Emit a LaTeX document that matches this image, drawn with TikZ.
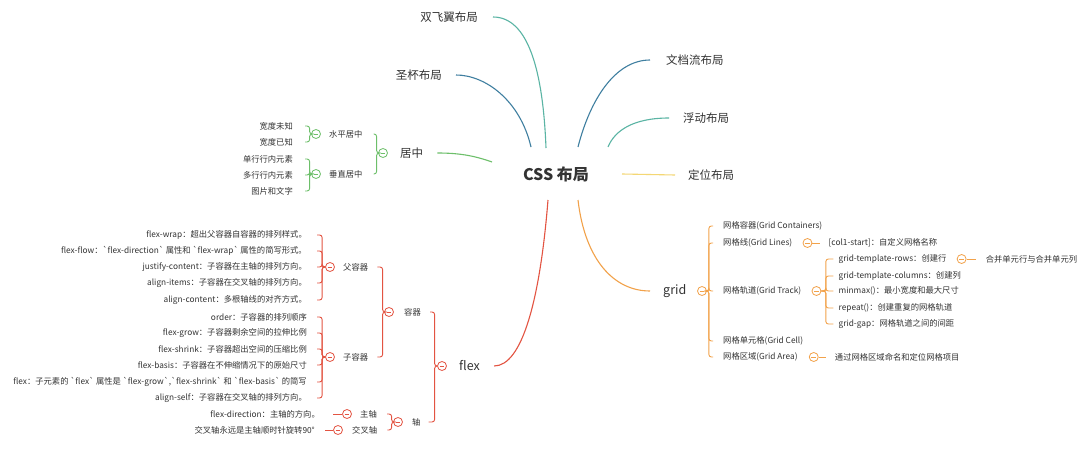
\documentclass[tikz,border=0pt]{standalone}
\usepackage{fontspec}
\setmainfont{Noto Sans CJK SC}[Ligatures=TeXOff]
\usetikzlibrary{calc}
\definecolor{txtc}{HTML}{333333}
\definecolor{cteal}{HTML}{5AB4A4}
\definecolor{cblue}{HTML}{3F7FA0}
\definecolor{cyellow}{HTML}{F4D774}
\definecolor{cgreen}{HTML}{6DBF6A}
\definecolor{cred}{HTML}{E35442}
\definecolor{corg}{HTML}{F2A24A}
\tikzset{
  txt/.style={font=\fontsize{8.3}{10}\selectfont, text=txtc, inner sep=0pt},
  big/.style={font=\fontsize{11.5}{13}\selectfont, text=txtc, inner sep=0pt},
  bigger/.style={font=\fontsize{12.5}{14}\selectfont, text=txtc, inner sep=0pt},
  fold/.style={circle, draw=#1, fill=white, line width=0.8pt, minimum size=9pt, inner sep=0pt,
    path picture={\draw[#1, line width=0.8pt] ([xshift=-2.3pt]path picture bounding box.center) -- ([xshift=2.3pt]path picture bounding box.center);}},
  br/.style={draw=#1, line width=0.9pt, rounded corners=2.5pt},
  conn/.style={draw=#1, line width=1.1pt},
}
\begin{document}
\begin{tikzpicture}[x=1pt,y=-1pt]
\fill[white] (0,0) rectangle (1080,452);
\useasboundingbox (0,0) rectangle (1080,452);

% root
\node[font=\bfseries\fontsize{16}{18}\selectfont, text=txtc, inner sep=0pt] (root) at (556,174) {CSS 布局};

% first level leaves
\node[big, anchor=east] (sfy) at (478,17) {双飞翼布局};
\node[big, anchor=east] (sb) at (442,75) {圣杯布局};
\node[big, anchor=west] (wdl) at (666,60) {文档流布局};
\node[big, anchor=west] (fd1) at (683,118) {浮动布局};
\node[big, anchor=west] (dw) at (688,175) {定位布局};
\node[big, anchor=west] (jz) at (400,153) {居中};
\node[bigger, anchor=west] (flex) at (459,366) {flex};
\node[bigger, anchor=west] (grid) at (663,291) {grid};

% root connectors
\draw[conn=cteal] ([xshift=-10pt,yshift=26pt]root.center) .. controls +(-3,-78) and +(35,0) .. ([xshift=15pt]sfy.east);
\draw[conn=cblue] ([xshift=-25pt,yshift=27pt]root.center) .. controls +(-11,-47) and +(29,0) .. ([xshift=14pt]sb.east);
\draw[conn=cblue] ([xshift=22pt,yshift=27pt]root.center) .. controls +(12,-47) and +(-35,0) .. ([xshift=-16pt]wdl.west);
\draw[conn=cteal] ([xshift=52pt,yshift=27pt]root.center) .. controls +(7,-17) and +(-35,0) .. ([xshift=-14pt]fd1.west);
\draw[conn=cyellow] ([xshift=66pt]root.center) -- ([xshift=-13pt]dw.west);
\draw[conn=cgreen] ([xshift=-64pt,yshift=12pt]root.center) .. controls +(-17,-6) and +(23,0) .. ([xshift=14pt]jz.east);
\draw[conn=cred] ([xshift=-8pt,yshift=-26pt]root.center) .. controls +(-8,100) and +(28,0) .. ([xshift=14pt]flex.east);
\draw[conn=corg] ([xshift=22pt,yshift=-26pt]root.center) .. controls +(7,60) and +(-36,0) .. ([xshift=-13pt]grid.west);

% ---------- 居中 ----------
\node[txt, anchor=east] (k1) at (293,126) {宽度未知};
\node[txt, anchor=east] (k2) at (293,142) {宽度已知};
\node[txt, anchor=east] (k3) at (293,159) {单行行内元素};
\node[txt, anchor=east] (k4) at (293,175) {多行行内元素};
\node[txt, anchor=east] (k5) at (293,191) {图片和文字};
\node[fold=cgreen] (csp) at (316,134) {};
\node[txt, anchor=west] (sp) at (329,134) {水平居中};
\node[fold=cgreen] (ccz) at (316,174) {};
\node[txt, anchor=west] (cz) at (329,174) {垂直居中};
\node[fold=cgreen] (cjz) at (383,153) {};
\foreach \n in {k1,k2} \draw[br=cgreen] (csp.west) -- ++(-1.5,0) |- ([xshift=12pt]\n.east);
\foreach \n in {k3,k4,k5} \draw[br=cgreen] (ccz.west) -- ++(-1.5,0) |- ([xshift=12pt]\n.east);
\foreach \n in {sp,cz} \draw[br=cgreen] (cjz.west) -- ++(-1.5,0) |- ([xshift=11pt]\n.east);

% ---------- flex ----------
\node[txt, anchor=east] (fw) at (307,235) {flex-wrap：超出父容器自容器的排列样式。};
\node[txt, anchor=east] (ff) at (307,251) {flex-flow：`flex-direction` 属性和 `flex-wrap` 属性的简写形式。};
\node[txt, anchor=east] (jc) at (307,267) {justify-content：子容器在主轴的排列方向。};
\node[txt, anchor=east] (ai) at (307,283) {align-items：子容器在交叉轴的排列方向。};
\node[txt, anchor=east] (ac) at (307,300) {align-content：多根轴线的对齐方式。};
\node[txt, anchor=east] (od) at (307,317) {order：子容器的排列顺序};
\node[txt, anchor=east] (fg) at (307,333) {flex-grow：子容器剩余空间的拉伸比例};
\node[txt, anchor=east] (fs) at (307,349) {flex-shrink：子容器超出空间的压缩比例};
\node[txt, anchor=east] (fb) at (307,365) {flex-basis：子容器在不伸缩情况下的原始尺寸};
\node[txt, anchor=east] (fx) at (307,382) {flex：子元素的 `flex` 属性是 `flex-grow`,`flex-shrink` 和 `flex-basis` 的简写};
\node[txt, anchor=east] (as) at (307,398) {align-self：子容器在交叉轴的排列方向。};
\node[txt, anchor=east] (fdr) at (320,414) {flex-direction：主轴的方向。};
\node[txt, anchor=east] (jx) at (315,430) {交叉轴永远是主轴顺时针旋转90°};

\node[fold=cred] (cfu) at (330,267) {};
\node[txt, anchor=west] (fu) at (343,267) {父容器};
\node[fold=cred] (czr) at (330,357) {};
\node[txt, anchor=west] (zr) at (343,357) {子容器};
\node[fold=cred] (crq) at (389,312) {};
\node[txt, anchor=west] (rq) at (404,312) {容器};
\node[fold=cred] (czz) at (347,414) {};
\node[txt, anchor=west] (zz) at (360,414) {主轴};
\node[fold=cred] (cjx) at (338,430) {};
\node[txt, anchor=west] (jxz) at (352,430) {交叉轴};
\node[fold=cred] (czh) at (398,422) {};
\node[txt, anchor=west] (zh) at (412,422) {轴};
\node[fold=cred] (cfl) at (442,366) {};

\foreach \n in {fw,ff,jc,ai,ac} \draw[br=cred] (cfu.west) -- ++(-3,0) |- ([xshift=10pt]\n.east);
\foreach \n in {od,fg,fs,fb,fx,as} \draw[br=cred] (czr.west) -- ++(-3,0) |- ([xshift=10pt]\n.east);
\foreach \n in {fu,zr} \draw[br=cred] (crq.west) -- ++(-1.5,0) |- ([xshift=9pt]\n.east);
\foreach \n in {zz,jxz} \draw[br=cred] (czh.west) -- ++(-1.5,0) |- ([xshift=10pt]\n.east);
\draw[br=cred] (cfl.west) -- ++(-2.5,0) |- ([xshift=9pt]rq.east);
\draw[br=cred] (cfl.west) -- ++(-2.5,0) |- ([xshift=8pt]zh.east);
\draw[br=cred] (czz.west) -- ([xshift=13pt]fdr.east);
\draw[br=cred] (cjx.west) -- ([xshift=10pt]jx.east);

% ---------- grid ----------
\node[fold=corg] (cgr) at (702,291) {};
\node[txt, anchor=west] (gc) at (723,226) {网格容器(Grid Containers)};
\node[txt, anchor=west] (gl) at (723,243) {网格线(Grid Lines)};
\node[txt, anchor=west] (gt) at (723,291) {网格轨道(Grid Track)};
\node[txt, anchor=west] (gce) at (723,341) {网格单元格(Grid Cell)};
\node[txt, anchor=west] (ga) at (723,357) {网格区域(Grid Area)};
\foreach \n in {gc,gl,gt,gce,ga} \draw[br=corg] (cgr.east) -- ++(2,0) |- ([xshift=-10pt]\n.west);

\node[fold=corg] (cgl) at ([xshift=15pt]gl.east) {};
\node[txt, anchor=west] (col) at ([xshift=21pt]cgl.center) {[col1-start]：自定义网格名称};
\draw[br=corg] (cgl.east) -- ([xshift=-8pt]col.west);

\node[fold=corg] (cgt) at ([xshift=15pt]gt.east) {};
\coordinate (gtt) at ([xshift=22pt]cgt.center);
\node[txt, anchor=west] (r1) at (gtt |- 0,259) {grid-template-rows：创建行};
\node[txt, anchor=west] (r2) at (gtt |- 0,276) {grid-template-columns：创建列};
\node[txt, anchor=west] (r3) at (gtt |- 0,291) {minmax()：最小宽度和最大尺寸};
\node[txt, anchor=west] (r4) at (gtt |- 0,308) {repeat()：创建重复的网格轨道};
\node[txt, anchor=west] (r5) at (gtt |- 0,324) {grid-gap：网格轨道之间的间距};
\foreach \n in {r1,r2,r3,r4,r5} \draw[br=corg] (cgt.east) -- ++(4.5,0) |- ([xshift=-5pt]\n.west);

\node[fold=corg] (cr1) at ([xshift=15pt]r1.east) {};
\node[txt, anchor=west] (mg) at ([xshift=24pt]cr1.center) {合并单元行与合并单元列};
\draw[br=corg] (cr1.east) -- ([xshift=-10pt]mg.west);

\node[fold=corg] (cga) at ([xshift=16pt]ga.east) {};
\node[txt, anchor=west] (ar) at ([xshift=21pt]cga.center) {通过网格区域命名和定位网格项目};
\draw[br=corg] (cga.east) -- ([xshift=-9pt]ar.west);
\end{tikzpicture}
\end{document}
